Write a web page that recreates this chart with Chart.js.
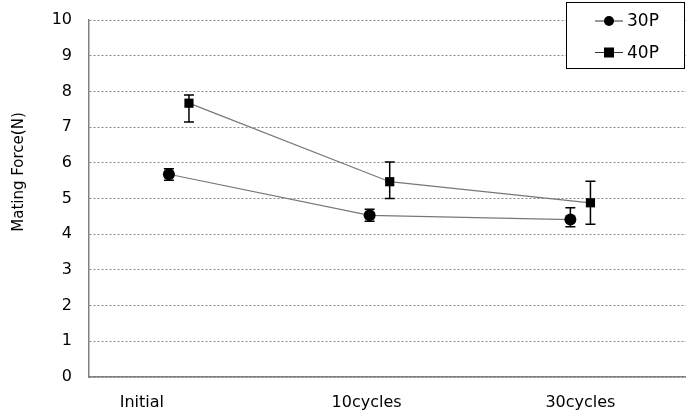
<!DOCTYPE html>
<html>
<head>
<meta charset="utf-8">
<script src="https://cdn.jsdelivr.net/npm/chart.js@4/dist/chart.umd.min.js"></script>
<style>
  html, body { margin: 0; padding: 0; background: #fff; }
  #wrap { width: 686px; height: 418px; position: relative; }
</style>
</head>
<body>
<div id="wrap"><canvas id="c" width="686" height="418"></canvas></div>
<script>
// ---- data ----
const categories = ['Initial', '10cycles', '30cycles'];
const seriesNames = ['30P', '40P'];
const values30P = [5.68, 4.53, 4.41];
const errUp30P = [0.15, 0.17, 0.33];
const errDown30P = [0.17, 0.17, 0.20];
const values40P = [7.67, 5.47, 4.88];
const errUp40P = [0.23, 0.55, 0.60];
const errDown40P = [0.53, 0.47, 0.60];
const yTicks = [0, 1, 2, 3, 4, 5, 6, 7, 8, 9, 10];
const yTitle = 'Mating Force(N)';

// layout-only: where each category label sits relative to its point pair (index units)
const xLabelNudge = [-0.185, -0.065, 0.0];

Chart.defaults.font.family = "'DejaVu Sans', Verdana, sans-serif";
Chart.defaults.font.size = 16;
Chart.defaults.color = '#000';

function pts(vals, shift) { return vals.map((v, i) => ({ x: i + shift, y: v })); }

const errorBars = {
  id: 'errorBars',
  beforeDatasetsDraw(chart) {
    const ctx = chart.ctx, xs = chart.scales.x, ys = chart.scales.y;
    ctx.save();
    ctx.strokeStyle = '#000';
    ctx.lineWidth = 1.5;
    chart.data.datasets.forEach(ds => {
      ds.data.forEach((p, i) => {
        const px = xs.getPixelForValue(p.x);
        const top = ys.getPixelForValue(p.y + ds.errUp[i]);
        const bot = ys.getPixelForValue(p.y - ds.errDown[i]);
        ctx.beginPath();
        ctx.moveTo(px, top); ctx.lineTo(px, bot);
        ctx.moveTo(px - 5, top); ctx.lineTo(px + 5, top);
        ctx.moveTo(px - 5, bot); ctx.lineTo(px + 5, bot);
        ctx.stroke();
      });
    });
    ctx.restore();
  }
};

const extras = {
  id: 'extras',
  afterDraw(chart) {
    const ctx = chart.ctx;
    ctx.save();
    // y axis title
    ctx.save();
    ctx.translate(19, 172);
    ctx.rotate(-Math.PI / 2);
    ctx.font = "15px 'DejaVu Sans'";
    ctx.fillStyle = '#000';
    ctx.textAlign = 'center';
    ctx.textBaseline = 'middle';
    ctx.fillText(yTitle, 0, 0);
    ctx.restore();
    // legend box
    const x0 = 566.5, y0 = 2.5, w = 118, h = 66;
    ctx.fillStyle = '#fff';
    ctx.fillRect(x0, y0, w, h);
    ctx.strokeStyle = '#000';
    ctx.lineWidth = 1;
    ctx.strokeRect(x0, y0, w, h);
    chart.data.datasets.forEach((ds, k) => {
      const cy = 21 + k * 31.5;
      ctx.strokeStyle = '#333';
      ctx.lineWidth = 1;
      ctx.beginPath(); ctx.moveTo(595, cy); ctx.lineTo(623, cy); ctx.stroke();
      ctx.fillStyle = '#000';
      if (ds.pointStyle === 'rect') {
        ctx.fillRect(609 - 5, cy - 5, 10, 10);
      } else {
        ctx.beginPath(); ctx.arc(609, cy, 5, 0, Math.PI * 2); ctx.fill();
      }
      ctx.font = "17px 'DejaVu Sans'";
      ctx.textBaseline = 'middle';
      ctx.textAlign = 'left';
      ctx.fillText(ds.label, 627, cy + 1);
    });
    ctx.restore();
  }
};

new Chart(document.getElementById('c'), {
  type: 'scatter',
  data: {
    datasets: [
      { label: seriesNames[0], data: pts(values30P, -0.05), errUp: errUp30P, errDown: errDown30P,
        showLine: true, borderColor: '#777', borderWidth: 1.2, pointStyle: 'circle',
        pointRadius: 6, pointBackgroundColor: '#000', pointBorderColor: '#000', pointBorderWidth: 0 },
      { label: seriesNames[1], data: pts(values40P, 0.05), errUp: errUp40P, errDown: errDown40P,
        showLine: true, borderColor: '#777', borderWidth: 1.2, pointStyle: 'rect',
        pointRadius: 6.5, pointBackgroundColor: '#000', pointBorderColor: '#000', pointBorderWidth: 0 }
    ]
  },
  options: {
    responsive: false,
    animation: false,
    layout: { autoPadding: false, padding: { left: 0, top: 20, right: 0, bottom: 0 } },
    plugins: { legend: { display: false }, tooltip: { enabled: false } },
    scales: {
      x: {
        type: 'linear', min: -0.448, max: 2.526,
        afterBuildTicks(s) { s.ticks = categories.map((_, i) => ({ value: i + xLabelNudge[i] })); },
        afterFit(s) { s.height = 41; s.paddingLeft = 0; s.paddingRight = 0; },
        grid: { display: false, drawTicks: false },
        border: { display: true, color: '#808080', width: 1.5 },
        ticks: { padding: 16, maxRotation: 0, autoSkip: false,
          callback: (v, i) => categories[i] }
      },
      y: {
        min: 0, max: 10,
        afterBuildTicks(s) { s.ticks = yTicks.map(v => ({ value: v })); },
        afterFit(s) { s.width = 89; s.paddingTop = 0; s.paddingBottom = 0; },
        grid: { color: '#888', lineWidth: 1, drawTicks: false },
        border: { display: true, color: '#808080', width: 1.5, dash: [2, 2] },
        ticks: { padding: 17 },
        title: { display: false }
      }
    }
  },
  plugins: [errorBars, extras]
});
</script>
</body>
</html>
